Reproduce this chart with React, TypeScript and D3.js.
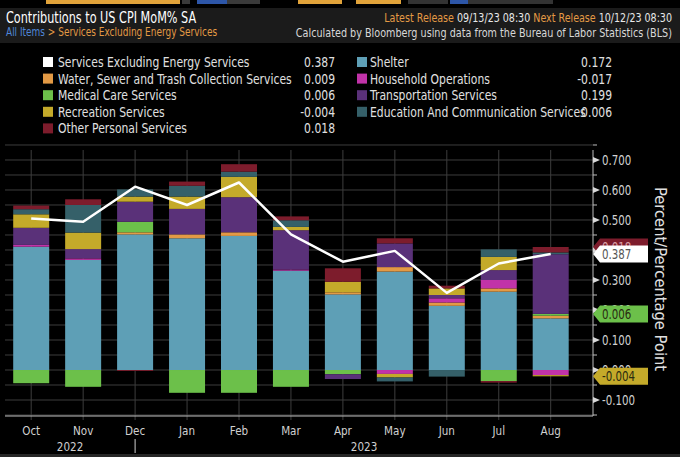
import React, { useEffect, useRef } from "react";
import { select, scalePoint, scaleLinear, stack, stackOffsetDiverging, line, range } from "d3";

const months = ["Oct", "Nov", "Dec", "Jan", "Feb", "Mar", "Apr", "May", "Jun", "Jul", "Aug"];
const yearLabels = ["2022", "2023"];
const yearBreak = "Dec";

// contributions, percentage points
const servicesExEnergy = [0.505, 0.494, 0.611, 0.55, 0.625, 0.452, 0.361, 0.397, 0.257, 0.355, 0.387];
const shelter = [0.411, 0.367, 0.452, 0.439, 0.447, 0.331, 0.252, 0.328, 0.214, 0.261, 0.172];
const water = [0, 0, 0.007, 0.013, 0.012, 0, 0.007, 0.015, 0.011, 0.011, 0.009];
const household = [0.006, 0.005, 0, 0, 0, 0.004, 0, -0.013, 0.014, 0.028, -0.017];
const medical = [-0.044, -0.056, 0.035, -0.076, -0.076, -0.056, -0.014, 0, 0, -0.037, 0.006];
const transportation = [0.057, 0.031, 0.067, 0.085, 0.117, 0.131, -0.016, 0.079, 0.011, 0.033, 0.199];
const recreation = [0.045, 0.055, 0.017, 0.041, 0.068, 0.011, 0.035, -0.012, 0.022, 0.044, -0.004];
const education = [0.017, 0.092, 0.024, 0.036, 0.017, 0.022, 0, -0.013, -0.022, 0.025, 0.006];
const otherPersonal = [0.012, 0.019, -0.003, 0.014, 0.025, 0.013, 0.045, 0.017, 0.009, -0.005, 0.018];

const series = [
  { key: "shelter", name: "Shelter", color: "#5e9fb6", values: shelter },
  { key: "water", name: "Water, Sewer and Trash Collection Services", color: "#e39a45", values: water },
  { key: "household", name: "Household Operations", color: "#c133a8", values: household },
  { key: "medical", name: "Medical Care Services", color: "#6cc04a", values: medical },
  { key: "transportation", name: "Transportation Services", color: "#5a3179", values: transportation },
  { key: "recreation", name: "Recreation Services", color: "#c4aa2a", values: recreation },
  { key: "education", name: "Education And Communication Services", color: "#356069", values: education },
  { key: "other", name: "Other Personal Services", color: "#7d1c2c", values: otherPersonal },
];

const legendLeft = ["total", "water", "medical", "recreation", "other"];
const legendRight = ["shelter", "household", "transportation", "education"];
const tagSeries = ["other", "medical", "recreation"];

const yTicks = range(-0.1, 0.71, 0.1);
const yGrid = range(-0.15, 0.76, 0.05);

const FONT = "'DejaVu Sans', sans-serif";
const W = 680;
const H = 457;

function ContributionChart() {
  const svgRef = useRef<SVGSVGElement>(null);

  useEffect(() => {
    const svg = select(svgRef.current);
    svg.selectAll("*").remove();

    // condensed-looking text: horizontally squeezed DejaVu
    const label = (
      x0: number, y0: number, str: string, size: number, fill: string,
      anchor = "start", sx = 0.8
    ) =>
      svg.append("text")
        .attr("transform", `translate(${x0},${y0}) scale(${sx},1)`)
        .attr("text-anchor", anchor).attr("fill", fill)
        .attr("font-size", size).attr("font-family", FONT).text(str);

    const left = 5;
    const right = 593;
    const top = 150;
    const bottom = 416;

    const x = scalePoint<string>().domain(months).range([31.2, 550.7]);
    const y = scaleLinear().domain([-0.1533, 0.7333]).range([bottom, top]);
    const barW = 36;

    svg.append("rect").attr("width", W).attr("height", H).attr("fill", "#000");

    // top toolbar strip
    const tb = svg.append("g");
    [
      [46, 134, "#e1a33a"], [182, 8, "#3a3a3a"], [197, 30, "#2d56a8"], [227, 33, "#3a3a3a"],
      [298, 44, "#e1a33a"], [356, 45, "#e1a33a"], [408, 40, "#333"], [450, 18, "#2d56a8"], [468, 85, "#333"],
    ].forEach(([bx, bw, c]) =>
      tb.append("rect").attr("x", bx as number).attr("y", 0).attr("width", bw as number).attr("height", 4).attr("fill", c as string)
    );

    // header band
    svg.append("rect").attr("x", 0).attr("y", 8).attr("width", W).attr("height", 35).attr("fill", "#1b1b1b");
    label(6, 23, "Contributions to US CPI MoM% SA", 15, "#fff", "start", 0.75);
    const sub = label(6, 36, "", 11.5, "#fff", "start", 0.78);
    sub.append("tspan").attr("fill", "#4f86d6").text("All Items");
    sub.append("tspan").attr("fill", "#e39a45").text(" > Services Excluding Energy Services");

    const rel = label(672, 22, "", 11.5, "#fff", "end", 0.83);
    rel.append("tspan").attr("fill", "#e39a45").text("Latest Release ");
    rel.append("tspan").attr("fill", "#e8e8e8").text("09/13/23 08:30 ");
    rel.append("tspan").attr("fill", "#e39a45").text(" Next Release ");
    rel.append("tspan").attr("fill", "#e8e8e8").text("10/12/23 08:30");
    label(672, 37, "Calculated by Bloomberg using data from the Bureau of Labor Statistics (BLS)", 11.5, "#d8d8d8", "end", 0.84);

    // legend
    const last = months.length - 1;
    const legendInfo = (k: string) => {
      if (k === "total") return { name: "Services Excluding Energy Services", color: "#fff", v: servicesExEnergy[last] };
      const s = series.find((d) => d.key === k)!;
      return { name: s.name, color: s.color, v: s.values[last] };
    };
    const drawLegend = (keys: string[], sx: number, tx: number, vx: number) => {
      keys.forEach((k, i) => {
        const info = legendInfo(k);
        const ly = 62 + i * 16.6;
        svg.append("rect").attr("x", sx).attr("y", ly - 5).attr("width", 10).attr("height", 10).attr("fill", info.color);
        label(tx, ly + 5, info.name, 13.5, "#e0e0e0", "start", 0.8);
        label(vx, ly + 5, info.v.toFixed(3), 13.5, "#e0e0e0", "end", 0.8);
      });
    };
    drawLegend(legendLeft, 43, 58, 335);
    drawLegend(legendRight, 357, 370, 612);

    // grid
    const grid = svg.append("g").attr("stroke", "#3d3d3d").attr("stroke-width", 1);
    yGrid.forEach((v) =>
      grid.append("line").attr("x1", left).attr("x2", right).attr("y1", y(v)).attr("y2", y(v))
    );
    months.forEach((m) =>
      grid.append("line").attr("x1", x(m)!).attr("x2", x(m)!).attr("y1", top).attr("y2", bottom + 4)
    );

    // stacked bars
    const table = months.map((m, i) => {
      const row: any = { month: m };
      series.forEach((s) => (row[s.key] = s.values[i]));
      return row;
    });
    const stacked = stack<any>().keys(series.map((s) => s.key)).offset(stackOffsetDiverging)(table);
    stacked.forEach((layer, li) => {
      svg.append("g").attr("fill", series[li].color)
        .selectAll("rect").data(layer).enter().append("rect")
        .attr("x", (d: any) => x(d.data.month)! - barW / 2)
        .attr("width", barW)
        .attr("y", (d: any) => y(Math.max(d[0], d[1])))
        .attr("height", (d: any) => Math.abs(y(d[0]) - y(d[1])));
    });

    // total line
    const path = line<number>()
      .x((_, i) => x(months[i])!)
      .y((d) => y(d));
    svg.append("path").datum(servicesExEnergy).attr("fill", "none").attr("stroke", "#fff")
      .attr("stroke-width", 2.5).attr("stroke-linejoin", "round").attr("d", path);

    // x axis
    svg.append("line").attr("x1", left).attr("x2", right).attr("y1", bottom).attr("y2", bottom)
      .attr("stroke", "#bdbdbd").attr("stroke-width", 1);
    months.forEach((m) => label(x(m)!, 435, m, 13, "#d0d0d0", "middle", 0.8));
    const bounds = [left, x(yearBreak)!, right];
    yearLabels.forEach((yl, i) => label((bounds[i] + bounds[i + 1]) / 2, 451, yl, 13, "#d0d0d0", "middle", 0.8));
    svg.append("line").attr("x1", x(yearBreak)!).attr("x2", x(yearBreak)!).attr("y1", 439).attr("y2", 453)
      .attr("stroke", "#d0d0d0");

    // y axis
    svg.append("line").attr("x1", right).attr("x2", right).attr("y1", top).attr("y2", bottom)
      .attr("stroke", "#bdbdbd");
    yGrid.forEach((v) =>
      svg.append("line").attr("x1", right).attr("x2", right + 4).attr("y1", y(v)).attr("y2", y(v)).attr("stroke", "#bdbdbd")
    );
    yTicks.forEach((v) => {
      const ty = y(v);
      svg.append("path").attr("d", `M${right},${ty - 3}L${right + 7},${ty}L${right},${ty + 3}Z`).attr("fill", "#d8d8d8");
      label(602, ty + 5, v.toFixed(3), 13.5, "#d0d0d0", "start", 0.76);
    });
    svg.append("text").attr("transform", `translate(655,279) rotate(90) scale(0.92,1)`).attr("text-anchor", "middle")
      .attr("fill", "#e0e0e0").attr("font-size", 16).attr("font-family", FONT).text("Percent/Percentage Point");

    // last-value tags
    const tag = (v: number, yPos: number, fill: string, txt: string) => {
      const h = 8.5;
      svg.append("path")
        .attr("d", `M${right},${yPos}L${right + 7},${yPos - h}H${right + 55}V${yPos + h}H${right + 7}Z`)
        .attr("fill", fill);
      label(right + 9, yPos + 5, v.toFixed(3), 13.5, txt, "start", 0.76);
    };
    const lastStack = (k: string) => {
      const li = series.findIndex((s) => s.key === k);
      const d = stacked[li][last];
      return series[li].values[last] >= 0 ? d[1] : d[0];
    };
    tagSeries.forEach((k) => {
      const s = series.find((d) => d.key === k)!;
      tag(s.values[last], y(lastStack(k)), s.color, k === "other" ? "#d9a0a8" : "#2a2a10");
      if (k === "other") tag(servicesExEnergy[last], y(servicesExEnergy[last]), "#fff", "#555");
    });

    // bottom strip
    svg.append("rect").attr("x", 0).attr("y", 454).attr("width", W).attr("height", 3).attr("fill", "#262626");
  }, []);

  return <svg width={W} height={H} ref={svgRef} style={{ display: "block" }}></svg>;
}

export default function App() {
  return (
    <div style={{ position: "fixed", left: 0, top: 0, width: W, height: H, background: "#000" }}>
      <ContributionChart />
    </div>
  );
}
